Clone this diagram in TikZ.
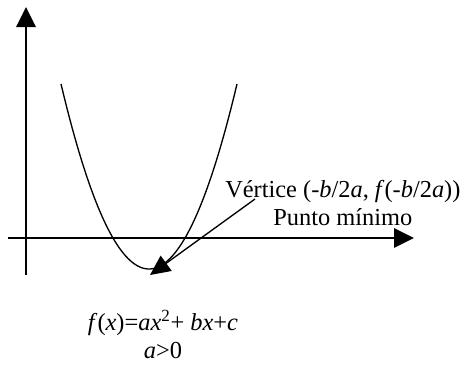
\documentclass[tikz,border=0pt]{standalone}
\usepackage{fontspec}
\setmainfont{Liberation Serif}
\usepackage{tikz}
\usetikzlibrary{arrows.meta,positioning}
\definecolor{cLine}{HTML}{000000}

\begin{document}
\begin{tikzpicture}[
  x=0.75pt, y=-0.75pt,
  font=\fontsize{18.3}{20}\selectfont,
  axis/.style ={draw=cLine, line width=1.4pt, -{Triangle[length=15pt, width=14.5pt]}},
  curve/.style={draw=cLine, line width=1pt},
  ptr/.style  ={draw=cLine, line width=1pt, -{Triangle[length=15pt, width=14pt]}},
  label/.style={inner sep=0pt, anchor=base west},
]
\useasboundingbox (0,0) rectangle (461,368);

% ---------------------------------------------------------------- axes
\coordinate (ybot) at (26,275);
\coordinate (ytop) at (26,7);
\coordinate (xlft) at (8,238);
\coordinate (xrgt) at (414,238);
\draw[axis] (ybot) -- (ytop);
\draw[axis] (xlft) -- (xrgt);

% ---------------------------------------------------------------- parabola
\draw[curve] plot[domain=61:237, samples=80, smooth] (\x,{269-0.0239*(\x-149)^2});

% ---------------------------------------------------------------- labels
\node[label] (vert) at (225,197) {Vértice (-\textit{b}/2\textit{a}, \textit{f}(-\textit{b}/2\textit{a}))};
\node[below=4pt of vert, inner sep=0pt] (pmin) {Punto mínimo};

\node[inner sep=0pt, anchor=base] (func) at (163,330)
  {\textit{f}(\textit{x})=\textit{ax}\textsuperscript{2}+ \textit{bx}+\textit{c}};
\node[below=5pt of func, inner sep=0pt] (cond) {\textit{a}>0};

% ---------------------------------------------------------------- pointer
\coordinate (tail) at (255,199);
\coordinate (vtx)  at (150,275);
\draw[ptr] (tail) -- (vtx);

\end{tikzpicture}
\end{document}
